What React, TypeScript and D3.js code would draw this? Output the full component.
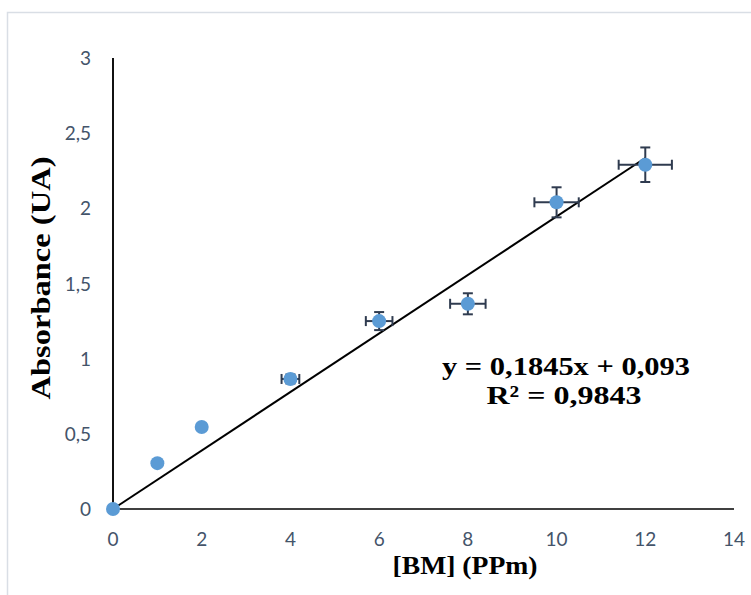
import React from "react";
import * as d3 from "d3";

const concentrations = [0, 1, 2, 4, 6, 8, 10, 12];
const absorbances = [0, 0.305, 0.545, 0.865, 1.25, 1.365, 2.04, 2.29];
const xErrors = [0, 0, 0, 0.2, 0.3, 0.4, 0.5, 0.6];
const yErrors = [0, 0, 0, 0.03, 0.06, 0.07, 0.1, 0.115];
const trendX = [0, 12];
const trendY = [0, 2.335];
const xTicks = [0, 2, 4, 6, 8, 10, 12, 14];
const yTicks = [0, 0.5, 1, 1.5, 2, 2.5, 3];
const equationLines = ["y = 0,1845x + 0,093", "R² = 0,9843"];
const xTitle = "[BM] (PPm)";
const yTitle = "Absorbance (UA)";

export default function App() {
  const W = 751, H = 595;
  const x = d3.scaleLinear().domain([0, 14]).range([113, 734]);
  const y = d3.scaleLinear().domain([0, 3]).range([509, 58]);
  const fmt = (v: number) => String(v).replace(".", ",");
  const tickColor = "#44546A";
  const tickFont = "Lato, Carlito, sans-serif";
  const serif = "'Liberation Serif', 'Times New Roman', serif";
  const errColor = "#2F3B4F";
  const cap = 5;
  const line = d3.line<number>().x((_, i) => x(trendX[i])).y((_, i) => y(trendY[i]));
  return (
    <svg width={W} height={H} style={{ position: "absolute", left: 0, top: 0, background: "#fff" }}>
      <rect x={7.5} y={12.5} width={760} height={600} fill="#fff" stroke="#D9DEE5" strokeWidth={1.5} />
      {/* axes */}
      <line x1={x(0)} x2={x(14)} y1={y(0)} y2={y(0)} stroke="#404040" strokeWidth={2} />
      <line x1={x(0)} x2={x(0)} y1={y(0)} y2={y(3)} stroke="#111" strokeWidth={2} />
      {xTicks.map((t) => (
        <text key={"x" + t} x={x(t)} y={546} textAnchor="middle" fontSize={19} fill={tickColor} fontFamily={tickFont}>
          {fmt(t)}
        </text>
      ))}
      {yTicks.map((t) => (
        <text key={"y" + t} x={91} y={y(t) + 7} textAnchor="end" fontSize={19} fill={tickColor} fontFamily={tickFont}>
          {fmt(t)}
        </text>
      ))}
      {/* trendline */}
      <path d={line([0, 1]) || ""} stroke="#000" strokeWidth={2} fill="none" />
      {/* error bars */}
      {concentrations.map((c, i) => {
        const px = x(c), py = y(absorbances[i]);
        const ex = xErrors[i], ey = yErrors[i];
        return (
          <g key={"e" + i} stroke={errColor} strokeWidth={2}>
            {ex > 0 && (
              <>
                <line x1={x(c - ex)} x2={x(c + ex)} y1={py} y2={py} />
                <line x1={x(c - ex)} x2={x(c - ex)} y1={py - cap} y2={py + cap} />
                <line x1={x(c + ex)} x2={x(c + ex)} y1={py - cap} y2={py + cap} />
              </>
            )}
            {ey > 0 && (
              <>
                <line x1={px} x2={px} y1={y(absorbances[i] - ey)} y2={y(absorbances[i] + ey)} />
                <line x1={px - cap} x2={px + cap} y1={y(absorbances[i] - ey)} y2={y(absorbances[i] - ey)} />
                <line x1={px - cap} x2={px + cap} y1={y(absorbances[i] + ey)} y2={y(absorbances[i] + ey)} />
              </>
            )}
          </g>
        );
      })}
      {concentrations.map((c, i) => (
        <circle key={"p" + i} cx={x(c)} cy={y(absorbances[i])} r={7} fill="#5B9BD5" />
      ))}
      {/* equation */}
      <text x={566} y={375} textAnchor="middle" fontSize={26} fontWeight="bold" fontFamily={serif} fill="#000" textLength={248} lengthAdjust="spacingAndGlyphs">
        {equationLines[0]}
      </text>
      <text x={564} y={404} textAnchor="middle" fontSize={26} fontWeight="bold" fontFamily={serif} fill="#000" textLength={155} lengthAdjust="spacingAndGlyphs">
        {equationLines[1]}
      </text>
      {/* axis titles */}
      <text x={465} y={574} textAnchor="middle" fontSize={25} fontWeight="bold" fontFamily={serif} fill="#000" textLength={145} lengthAdjust="spacingAndGlyphs">
        {xTitle}
      </text>
      <text transform="translate(50,278) rotate(-90)" textAnchor="middle" fontSize={27} fontWeight="bold" fontFamily={serif} fill="#000" textLength={243} lengthAdjust="spacingAndGlyphs">
        {yTitle}
      </text>
    </svg>
  );
}
